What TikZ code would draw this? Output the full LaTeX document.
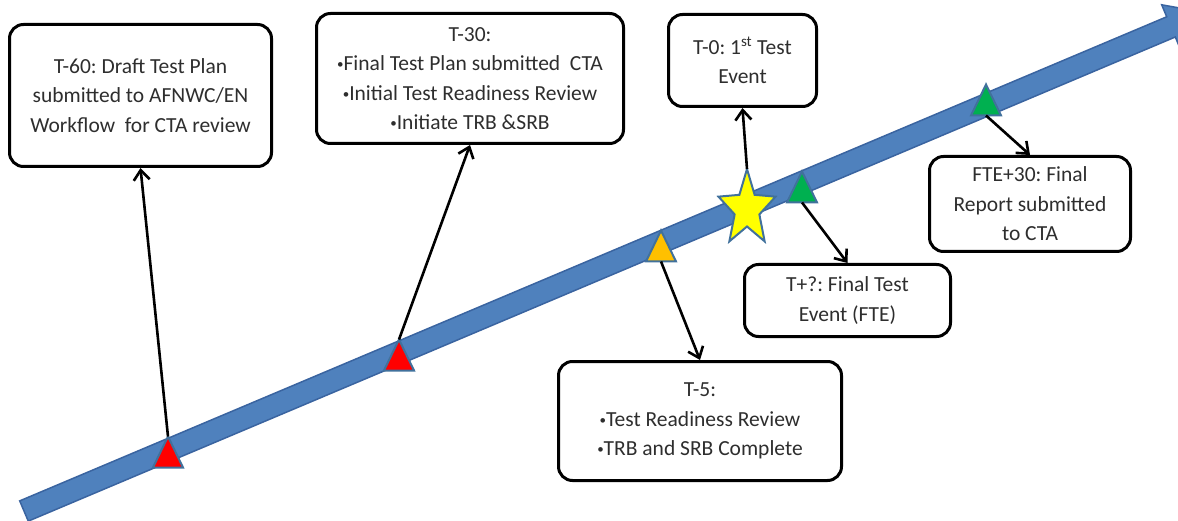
\documentclass[tikz,border=0pt]{standalone}
\usepackage{fontspec}
\setmainfont{Carlito}
\usetikzlibrary{arrows.meta}
\definecolor{barblue}{HTML}{4F81BD}
\definecolor{barline}{HTML}{3A64A0}
\definecolor{mkline}{HTML}{41719C}
\definecolor{mkred}{HTML}{FF0000}
\definecolor{mkorange}{HTML}{FFC000}
\definecolor{mkgreen}{HTML}{00B050}
\definecolor{mkyellow}{HTML}{FFFF00}
\definecolor{txt}{HTML}{2E2E2E}
\newcommand{\bul}{\raisebox{2pt}{\fontsize{13}{13}\selectfont •}}
\frenchspacing
\begin{document}
\begin{tikzpicture}[x=1pt,y=-1pt,
 box/.style={draw=black, line width=3pt, rounded corners=14pt, fill=white, align=center, text=txt, font=\fontsize{21.5}{29.5}\selectfont, inner sep=0pt},
 link/.style={draw=black, line width=2.6pt, -{Straight Barb[length=10pt,width=16pt]}},
 marker/.style={draw=mkline, line width=2pt, line join=miter},
 pics/tri/.style={code={\draw[marker, fill=#1] (-15,15.5) -- (0,-15.5) -- (15,15.5) -- cycle; \coordinate (-top) at (0,-15.5); \coordinate (-bot) at (0,15.5);}}
]
\useasboundingbox (0,0) rectangle (1178,521);
\clip (0,0) rectangle (1178,521);

% timeline arrow
\draw[fill=barblue, draw=barline, line width=1.5pt, line join=miter]
  (19.72,500.87) -- (1166.7,16.8) -- (1161.7,4.8) -- (1205.1,12.6) -- (1180.3,49.0) -- (1175.3,37.0) -- (28.28,521.13) -- cycle;

% boxes
\node[box, minimum width=262pt, minimum height=142pt] (b1) at (140.5,95.5)
  {T-60: Draft Test Plan\\submitted to AFNWC/EN\\Workflow~ for CTA review};
\node[box, minimum width=307pt, minimum height=130pt] (b2) at (470,78.5)
  {T-30:\\\bul Final Test Plan submitted~ CTA\\\bul Initial Test Readiness Review\\\bul Initiate TRB \&SRB};
\node[box, minimum width=148pt, minimum height=92pt] (b0) at (742.5,60.5)
  {T-0: 1\textsuperscript{st} Test\\Event};
\node[box, minimum width=201pt, minimum height=95pt] (bf) at (1030,204)
  {FTE+30: Final\\Report submitted\\to CTA};
\node[box, minimum width=206pt, minimum height=72pt] (bq) at (847.5,300.5)
  {T+?: Final Test\\Event (FTE)};
\node[box, minimum width=283pt, minimum height=119pt] (b5) at (700,421)
  {T-5:\\\bul Test Readiness Review\\\bul TRB and SRB Complete};

% markers
\pic (r1) at (168,452) {tri=mkred};
\pic (r2) at (399,355) {tri=mkred};
\pic (or) at (661,246) {tri=mkorange};
\pic (g1) at (802,187) {tri=mkgreen};
\pic (g2) at (986,100) {tri=mkgreen};
\draw[marker, fill=mkyellow]
  ({747+30*cos(90)},{209-40*sin(90)}) -- ({747+13*cos(126)},{209-17.5*sin(126)}) --
  ({747+30*cos(162)},{209-40*sin(162)}) -- ({747+13*cos(198)},{209-17.5*sin(198)}) --
  ({747+30*cos(234)},{209-40*sin(234)}) -- ({747+13*cos(270)},{209-17.5*sin(270)}) --
  ({747+30*cos(306)},{209-40*sin(306)}) -- ({747+13*cos(342)},{209-17.5*sin(342)}) --
  ({747+30*cos(18)},{209-40*sin(18)}) -- ({747+13*cos(54)},{209-17.5*sin(54)}) -- cycle;
\coordinate (startop) at (747,169);

% connectors
\draw[link] (r1-top) -- (b1.south);
\draw[link] (r2-top) -- (b2.south);
\draw[link] (or-bot) -- (b5.north);
\draw[link] (startop) -- (b0.south);
\draw[link] (g1-bot) -- (bq.north);
\draw[link] (g2-bot) -- (bf.north);
\end{tikzpicture}
\end{document}
